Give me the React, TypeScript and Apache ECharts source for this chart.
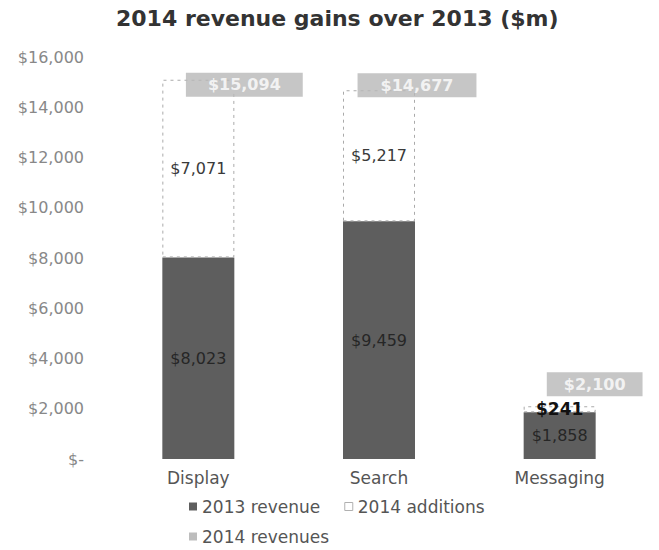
import React, { useEffect, useRef } from "react";
import * as echarts from "echarts";

const categories = ["Display", "Search", "Messaging"];
const revenue2013 = [8023, 9459, 1858];
const additions2014 = [7071, 5217, 241];
const revenue2014 = [15094, 14677, 2100];
const yMin = 0;
const yMax = 16000;
const yInterval = 2000;

// label box placement for the "2014 revenues" tags (styling only)
const tagOffsets = [
  [46, 5],
  [38, -5],
  [35, -22],
];
const tagPadding = [
  [4, 22],
  [4, 23],
  [4, 17],
];

const FONT = "DejaVu Sans";
const fmt = (v: number) => (v === 0 ? "$-" : "$" + v.toLocaleString("en-US"));

export default function App() {
  const ref = useRef<HTMLDivElement>(null);
  useEffect(() => {
    if (!ref.current) return;
    const chart = echarts.init(ref.current, null, { renderer: "svg" });
    const option: any = {
      animation: false,
      backgroundColor: "#ffffff",
      textStyle: { fontFamily: FONT },
      title: {
        text: "2014 revenue gains over 2013 ($m)",
        left: 116,
        top: 7,
        padding: 0,
        textStyle: { fontFamily: FONT, fontSize: 22, fontWeight: "bold", color: "#333333" },
      },
      grid: { left: 108, right: 9, top: 57, bottom: 91, containLabel: false },
      legend: [
        {
          left: 189,
          top: 498,
          padding: 0,
          itemWidth: 8,
          itemHeight: 8,
          itemGap: 24,
          textStyle: { fontFamily: FONT, fontSize: 17, color: "#555555" },
          data: [
            { name: "2013 revenue", icon: "rect" },
            {
              name: "2014 additions",
              icon: "rect",
              itemStyle: { color: "#ffffff", borderColor: "#b0b0b0", borderWidth: 1, borderType: "solid" },
            },
          ],
        },
        {
          left: 189,
          top: 528,
          padding: 0,
          itemWidth: 8,
          itemHeight: 8,
          textStyle: { fontFamily: FONT, fontSize: 17, color: "#555555" },
          data: [{ name: "2014 revenues", icon: "rect", itemStyle: { color: "#bdbdbd", opacity: 1 } }],
        },
      ],
      xAxis: {
        type: "category",
        data: categories,
        axisLine: { show: false },
        axisTick: { show: false },
        axisLabel: { fontFamily: FONT, fontSize: 17, color: "#555555", margin: 10 },
      },
      yAxis: {
        type: "value",
        min: yMin,
        max: yMax,
        interval: yInterval,
        splitLine: { show: false },
        axisLine: { show: false },
        axisTick: { show: false },
        axisLabel: {
          fontFamily: FONT,
          fontSize: 16,
          color: "#888888",
          margin: 24,
          formatter: (v: number) => fmt(v),
        },
      },
      series: [
        {
          name: "2013 revenue",
          type: "bar",
          stack: "rev",
          barWidth: 72,
          data: revenue2013,
          itemStyle: { color: "#5e5e5e" },
          label: {
            show: true,
            position: "inside",
            fontFamily: FONT,
            fontSize: 16,
            color: "#262626",
            formatter: (p: any) => fmt(p.value),
          },
        },
        {
          name: "2014 additions",
          type: "bar",
          stack: "rev",
          barWidth: 72,
          data: additions2014.map((v, i) => ({
            value: v,
            label:
              i === 2
                ? { fontWeight: "bold", color: "#111111", fontSize: 17 }
                : undefined,
          })),
          itemStyle: {
            color: "#ffffff",
            borderColor: "#aaaaaa",
            borderWidth: 1,
            borderType: [3, 4],
          },
          label: {
            show: true,
            position: "inside",
            fontFamily: FONT,
            fontSize: 16,
            color: "#3a3a3a",
            formatter: (p: any) => fmt(p.value),
          },
        },
        {
          name: "2014 revenues",
          type: "scatter",
          symbol: "rect",
          symbolSize: 1,
          z: 5,
          itemStyle: { color: "rgba(0,0,0,0)" },
          emphasis: { disabled: true },
          data: revenue2014.map((v, i) => ({
            value: v,
            label: { offset: tagOffsets[i], padding: tagPadding[i] },
          })),
          label: {
            show: true,
            position: "inside",
            fontFamily: FONT,
            fontSize: 16,
            fontWeight: "bold",
            color: "#ffffff",
            backgroundColor: "#b8b8b8",
            formatter: (p: any) => fmt(p.value),
          },
        },
      ],
    };
    chart.setOption(option);
    return () => chart.dispose();
  }, []);
  return (
    <div
      ref={ref}
      style={{ position: "absolute", left: 0, top: 0, width: 659, height: 550 }}
    />
  );
}
